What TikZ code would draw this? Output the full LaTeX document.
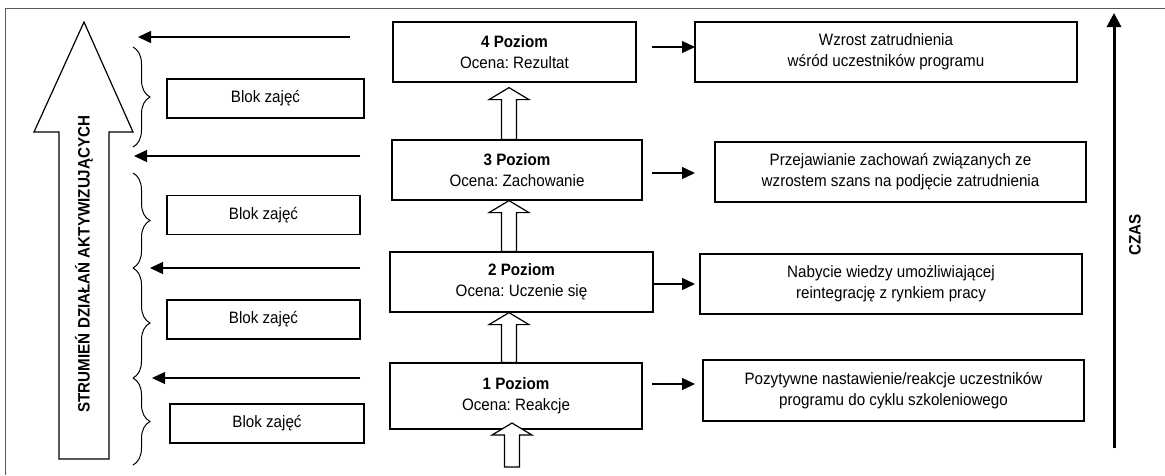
\documentclass[tikz,border=0pt]{standalone}
\usepackage{fontspec}
\setmainfont{Liberation Sans}[FakeStretch=0.92]
\frenchspacing
\usetikzlibrary{arrows.meta,positioning,calc,decorations.pathreplacing}

% hollow arrow between two points (canvas)
\newcommand{\fatarrow}[2]{%
  \draw[fat] let \p1=(#1), \p2=(#2) in
    (\x1-7.5pt,\y1) -- (\x1-7.5pt,\y2-12pt) -- (\x1-20pt,\y2-12pt) -- (\x1,\y2)
    -- (\x1+20pt,\y2-12pt) -- (\x1+7.5pt,\y2-12pt) -- (\x1+7.5pt,\y1) -- cycle;}

\begin{document}
\begin{tikzpicture}[
    x=1pt, y=-1pt,
    font=\fontsize{16.5}{21}\selectfont,
    levelbox/.style={rectangle, draw=black, line width=1.2pt, align=center, inner sep=0pt, minimum height=60pt},
    resultbox/.style={rectangle, draw=black, line width=1.2pt, align=center, inner sep=0pt, minimum height=60pt},
    blockbox/.style={rectangle, draw=black, line width=1.2pt, inner sep=0pt, minimum height=39pt},
    arrow/.style={-{Triangle[length=13pt,width=12pt]}, line width=1.3pt},
    fat/.style={draw=black, fill=white, line width=1.2pt},
    curly/.style={decorate, decoration={brace, amplitude=17pt}, line width=1pt},
    frameline/.style={draw=black!65, line width=1pt}
]
\useasboundingbox (0,0) rectangle (1165,475);

% Frame
\draw[frameline] (5,475) -- (5,8) -- (1165,8);

% Levels
\node[levelbox, minimum width=243pt] (l4) at (514.5,52) {\textbf{4 Poziom}\\Ocena: Rezultat};
\node[levelbox, minimum width=250pt] (l3) at (517,170) {\textbf{3 Poziom}\\Ocena: Zachowanie};
\node[levelbox, minimum width=263pt] (l2) at (521.5,282) {\textbf{2 Poziom}\\Ocena: Uczenie się};
\node[levelbox, minimum width=252pt, minimum height=66pt] (l1) at (516,396) {\textbf{1 Poziom}\\Ocena: Reakcje};

% Results
\node[resultbox, minimum width=382pt] (r4) at (886,52) {Wzrost zatrudnienia\\wśród uczestników programu};
\node[resultbox, minimum width=371pt] (r3) at (900.5,172) {Przejawianie zachowań związanych ze\\wzrostem szans na podjęcie zatrudnienia};
\node[resultbox, minimum width=382pt] (r2) at (891,284) {Nabycie wiedzy umożliwiającej\\reintegrację z rynkiem pracy};
\node[resultbox, minimum width=381pt, minimum height=61pt] (r1) at (893.5,390.5) {Pozytywne nastawienie/reakcje uczestników\\programu do cyklu szkoleniowego};

% Blocks
\node[blockbox, minimum width=197pt] (b1) at (265.5,98.5) {Blok zajęć};
\node[blockbox, minimum width=193pt] (b2) at (263.5,215) {Blok zajęć};
\node[blockbox, minimum width=193pt] (b3) at (263.5,319.5) {Blok zajęć};
\node[blockbox, minimum width=194pt] (b4) at (267,423.5) {Blok zajęć};

% Level to result
\foreach \n/\y in {4/47, 3/173, 2/284, 1/384} {
  \coordinate (o\n) at (652,\y);
  \coordinate (t\n) at (695,\y);
  \draw[arrow] (o\n) -- (t\n);
}

% Back to the stream
\foreach \n/\y/\xs/\xe in {4/37/350/138, 3/156/360/134, 2/268/360/150, 1/378/360/152} {
  \coordinate (f\n) at (\xs,\y);
  \coordinate (e\n) at (\xe,\y);
  \draw[arrow] (f\n) -- (e\n);
}

% Hollow arrows between levels
\coordinate (spine) at (509,0);
\fatarrow{spine |- l3.north}{$(spine |- l4.south)+(0,5)$}
\fatarrow{spine |- l2.north}{spine |- l3.south}
\fatarrow{spine |- l1.north}{spine |- l2.south}
\coordinate (entry) at (512,467);
\coordinate (entrytip) at (512,423);
\fatarrow{entry}{entrytip}

% Braces
\draw[curly] (133,47) -- (133,147);
\draw[curly] (133,173) -- (133,268);
\draw[curly] (133,268) -- (133,378);
\draw[curly] (133,378) -- (133,465);

% Stream arrow
\draw[line width=1.2pt] (84,22) -- (133,132) -- (109,132) -- (109,459) -- (59,459) -- (59,132) -- (34,132) -- cycle;
\node[rotate=90, font=\fontsize{16.5}{21}\selectfont\bfseries] (stream) at (84,264) {STRUMIEŃ DZIAŁAŃ AKTYWIZUJĄCYCH};

% Time
\coordinate (timestart) at (1114,448);
\coordinate (timeend) at (1114,13);
\draw[line width=3pt, -{Triangle[length=14pt,width=14pt]}] (timestart) -- (timeend);
\node[rotate=90, font=\fontsize{16.5}{21}\selectfont\bfseries] (time) at (1135,235) {CZAS};

\end{tikzpicture}
\end{document}
